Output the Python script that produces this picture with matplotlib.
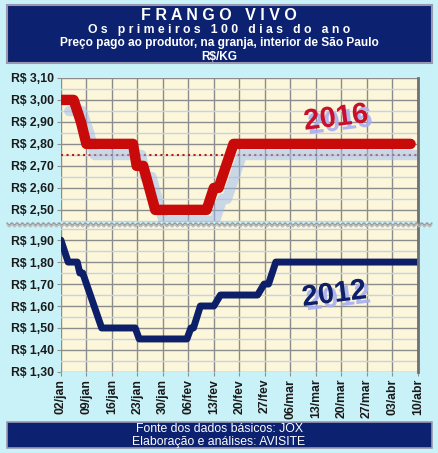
import numpy as np
import matplotlib.pyplot as plt
import matplotlib.patheffects as pe
from matplotlib.patches import Rectangle

plt.rcParams['font.family'] = ['Liberation Sans', 'DejaVu Sans']

# dados (dias contados a partir de 02/jan)
dias_2016 = [0, 3.5, 5.5, 7, 19.8, 20.8, 22.6, 25.9, 40, 42, 43.3, 47.4, 96]
preco_2016 = [3.00, 3.00, 2.90, 2.80, 2.80, 2.70, 2.70, 2.50, 2.50, 2.60, 2.60, 2.80, 2.80]

dias_2012 = [0, 2, 4.5, 5.2, 6, 11.2, 20.4, 21.5, 34.6, 35.7, 36.4, 38.3, 42, 43.8,
             54, 55.8, 57, 59, 98]
preco_2012 = [1.90, 1.80, 1.80, 1.75, 1.75, 1.50, 1.50, 1.45, 1.45, 1.50, 1.50, 1.60, 1.60, 1.65,
              1.65, 1.70, 1.70, 1.80, 1.80]

media_2016 = 2.75

rotulos_x = ['02/jan', '09/jan', '16/jan', '23/jan', '30/jan', '06/fev', '13/fev', '20/fev',
             '27/fev', '06/mar', '13/mar', '20/mar', '27/mar', '03/abr', '10/abr']
ticks_2016 = [2.50, 2.60, 2.70, 2.80, 2.90, 3.00, 3.10]
ticks_2012 = [1.30, 1.40, 1.50, 1.60, 1.70, 1.80, 1.90]

AZUL = '#0c2170'
FUNDO = '#c9f1f8'
CREME = '#fcf7da'

fig = plt.figure(figsize=(4.38, 4.53), dpi=100, facecolor=FUNDO)

# faixa do título
fig.patches.append(Rectangle((0.016, 0.861), 0.970, 0.128, transform=fig.transFigure,
                             facecolor=AZUL, edgecolor='#9a98b0', linewidth=1.5))
fig.text(0.5, 0.965, 'F R A N G O   V I V O', color='white', fontsize=11.5,
         fontweight='bold', ha='center', va='center')
fig.text(0.5, 0.934, 'O s   p r i m e i r o s   1 0 0   d i a s   d o   a n o', color='white',
         fontsize=8.8, fontweight='bold', ha='center', va='center')
fig.text(0.5, 0.904, 'Preço pago ao produtor, na granja, interior de São Paulo', color='white',
         fontsize=8.6, fontweight='bold', ha='center', va='center')
fig.text(0.5, 0.875, 'R$/KG', color='white', fontsize=8.6, fontweight='bold',
         ha='center', va='center')

# faixa do rodapé
fig.patches.append(Rectangle((0.016, 0.011), 0.970, 0.058, transform=fig.transFigure,
                             facecolor=AZUL, edgecolor='#9a98b0', linewidth=1.2))
fig.text(0.5, 0.053, 'Fonte dos dados básicos: JOX', color='white', fontsize=8.8,
         ha='center', va='center')
fig.text(0.5, 0.025, 'Elaboração e análises: AVISITE', color='white', fontsize=8.8,
         ha='center', va='center')

ax1 = fig.add_axes([0.139, 0.510, 0.815, 0.318])
ax2 = fig.add_axes([0.139, 0.179, 0.815, 0.322])

semanas = np.arange(0, 99, 7)
for ax in (ax1, ax2):
    ax.set_facecolor(CREME)
    ax.set_xlim(0, 98)
    ax.set_xticks(semanas)
    ax.grid(axis='x', color='#8c8c8c', linewidth=1.0)
    ax.grid(axis='y', which='major', color='#8c8c8c', linewidth=1.0)
    ax.grid(axis='y', which='minor', color='#c5d3e3', linewidth=1.0)
    ax.set_axisbelow(True)
    for s in ['top', 'left', 'bottom']:
        ax.spines[s].set_visible(False)
    ax.spines['right'].set_color('#707070')
    ax.spines['right'].set_linewidth(2)
    ax.tick_params(axis='y', labelsize=8.8, length=3, color='#909090', pad=2)
    ax.tick_params(axis='y', which='minor', length=0)

sombra_linha = [pe.SimpleLineShadow(offset=(6, -8), shadow_color='#9ab8f0', alpha=0.5),
                pe.Normal()]

# 2016
ax1.set_ylim(2.445, 3.10)
ax1.set_yticks(ticks_2016)
ax1.set_yticks(np.arange(2.45, 3.10, 0.10), minor=True)
ax1.set_yticklabels(['R$ ' + ('%.2f' % v).replace('.', ',') for v in ticks_2016],
                    fontweight='bold', color='#1a1a1a')
ax1.tick_params(axis='x', length=0, labelbottom=False)
ax1.axhline(media_2016, color='#b02020', linestyle=':', linewidth=1.5)
ax1.plot(dias_2016, preco_2016, color='#c80a0a', linewidth=7.5, solid_capstyle='round',
         solid_joinstyle='round', path_effects=sombra_linha)
ax1.text(75.5, 2.918, '2016', color='#c8102e', fontsize=21, fontweight='bold', rotation=7,
         ha='center', va='center',
         path_effects=[pe.SimplePatchShadow(offset=(3, -3), shadow_rgbFace='#a8aef0', alpha=0.9),
                       pe.Normal()])

# 2012
ax2.set_ylim(1.30, 1.964)
ax2.set_yticks(ticks_2012)
ax2.set_yticks(np.arange(1.35, 1.96, 0.10), minor=True)
ax2.set_yticklabels(['R$ ' + ('%.2f' % v).replace('.', ',') for v in ticks_2012],
                    fontweight='bold', color='#1a1a1a')
ax2.set_xticklabels(rotulos_x, rotation=90, fontsize=8.8, fontweight='bold', color='#1a1a1a')
ax2.tick_params(axis='x', length=3, color='#909090', pad=2)
ax2.plot(dias_2012, preco_2012, color='#0d1f68', linewidth=5, solid_capstyle='round',
         solid_joinstyle='round')
ax2.text(75, 1.654, '2012', color='#0d1f68', fontsize=21, fontweight='bold', rotation=7,
         ha='center', va='center',
         path_effects=[pe.SimplePatchShadow(offset=(3, -3), shadow_rgbFace='#a8aef0', alpha=0.9),
                       pe.Normal()])

# linha ondulada de quebra de eixo
xw = np.linspace(0.016, 0.986, 600)
yw = 0.5055 + 0.0025 * np.sin(xw * 2 * np.pi / 0.012)
fig.lines.append(plt.Line2D(xw, yw, transform=fig.transFigure, color='#9a9a9a', linewidth=1.0))
fig.lines.append(plt.Line2D(xw, yw - 0.004, transform=fig.transFigure, color='#b8b8b8',
                            linewidth=0.8))

fig.savefig('out.png', dpi=100, facecolor=FUNDO)
